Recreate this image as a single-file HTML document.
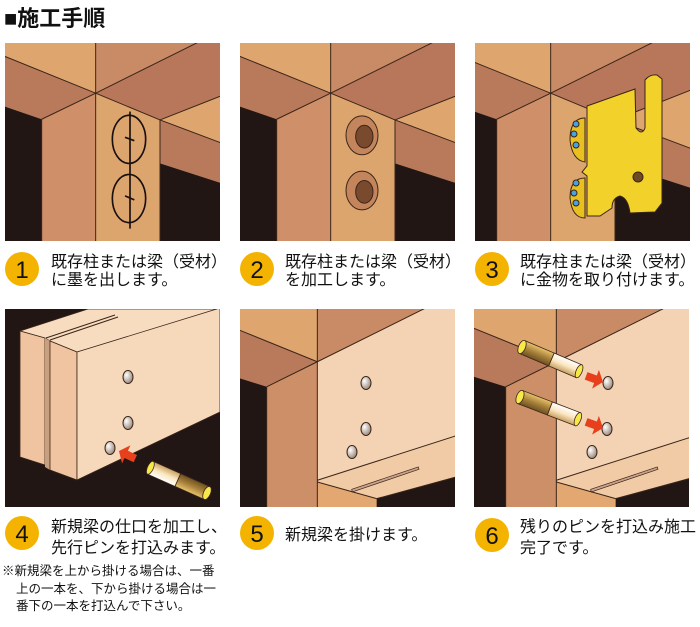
<!DOCTYPE html>
<html><head><meta charset="utf-8"><style>
html,body{margin:0;padding:0;background:#fff;}
body{width:700px;height:627px;overflow:hidden;font-family:"Liberation Sans","Noto Sans CJK JP",sans-serif;}
</style></head><body>
<svg width="700" height="627" viewBox="0 0 700 627" xmlns="http://www.w3.org/2000/svg" style="position:absolute;left:0;top:0">
<defs>
<g id="bg1">
  <rect x="0" y="0" width="760" height="620" fill="#dea56f"/>
  <polygon points="287,10 590,10 287,160" fill="#c98b66"/>
  <polygon points="590,10 760,10 760,130 480,240 287,160" fill="#b8775a"/>
  <polygon points="15,50 287,160 125,238 0,195 0,44" fill="#b97a5c"/>
  <polygon points="0,195 125,238 125,620 0,620" fill="#221614"/>
  <polygon points="125,238 287,160 287,620 125,620" fill="#cf8f69"/>
  <polygon points="287,160 480,240 480,620 287,620" fill="#dda56e"/>
  <polygon points="480,240 760,130 760,310 " fill="#dea56f"/>
  <polygon points="480,240 760,345 760,460 480,370" fill="#b97a5c"/>
  <polygon points="480,370 760,460 760,620 480,620" fill="#221614"/>
  <g stroke="#3a2518" stroke-width="3" fill="none">
    <line x1="0" y1="44" x2="287" y2="160"/>
    <line x1="287" y1="0" x2="287" y2="620"/>
    <line x1="287" y1="160" x2="600" y2="5"/>
    <line x1="287" y1="160" x2="125" y2="238"/>
    <line x1="125" y1="238" x2="125" y2="620"/>
    <line x1="287" y1="160" x2="480" y2="240"/>
    <line x1="480" y1="240" x2="480" y2="620"/>
    <line x1="480" y1="240" x2="760" y2="130"/>
    <line x1="480" y1="240" x2="760" y2="345"/>
  </g>
</g>
<g id="bg5">
  <rect x="0" y="0" width="700" height="620" fill="#dea56f"/>
  <polygon points="247,0 590,0 247,170" fill="#c98b66"/>
  <polygon points="0,70 247,170 95,245 0,215" fill="#b97a5c"/>
  <polygon points="0,215 95,245 95,620 0,620" fill="#221614"/>
  <polygon points="95,245 247,170 247,620 95,620" fill="#cd8f68"/>
  <polygon points="247,170 590,0 700,0 700,385 247,525" fill="#f3d3b3"/>
  <polygon points="247,525 700,380 700,505 425,580 247,530" fill="#f0cba6"/>
  <polygon points="247,530 425,580 425,620 247,620" fill="#e3a872"/>
  <polygon points="425,580 700,505 700,620 425,620" fill="#221614"/>
  <polygon points="350,552 550,485 552,492 352,560" fill="#caa08a" stroke="#3a2518" stroke-width="2"/>
  <g stroke="#3a2518" stroke-width="3" fill="none">
    <line x1="0" y1="70" x2="247" y2="170"/>
    <line x1="247" y1="0" x2="247" y2="620"/>
    <line x1="247" y1="170" x2="590" y2="0"/>
    <line x1="247" y1="170" x2="95" y2="245"/>
    <line x1="95" y1="245" x2="95" y2="620"/>
    <line x1="247" y1="525" x2="700" y2="380"/>
    <line x1="247" y1="530" x2="425" y2="580"/>
    <line x1="425" y1="580" x2="700" y2="505"/>
  </g>
</g>
<radialGradient id="hole" cx="0.35" cy="0.35" r="0.8"><stop offset="0" stop-color="#fff"/><stop offset="1" stop-color="#8a7464"/></radialGradient>
<g id="hole5"><ellipse cx="0" cy="0" rx="5" ry="6.5" fill="url(#hole)" stroke="#3a2518" stroke-width="1"/></g>
<linearGradient id="gold" x1="0" y1="0" x2="0" y2="1"><stop offset="0" stop-color="#e9c36a"/><stop offset="0.5" stop-color="#a8823c"/><stop offset="1" stop-color="#6e5120"/></linearGradient>
<linearGradient id="cream" x1="0" y1="0" x2="0" y2="1"><stop offset="0" stop-color="#fff"/><stop offset="0.5" stop-color="#fbe6c0"/><stop offset="1" stop-color="#c8a060"/></linearGradient>
<g id="pin">
  <rect x="0" y="-7" width="32" height="14" fill="url(#gold)" stroke="#3a2518" stroke-width="0.8"/>
  <rect x="32" y="-7" width="30" height="14" fill="url(#cream)" stroke="#3a2518" stroke-width="0.8"/>
  <ellipse cx="62" cy="0" rx="3" ry="7" fill="#f7e94a" stroke="#3a2518" stroke-width="0.8"/>
  <ellipse cx="0" cy="0" rx="3.5" ry="7" fill="#f7e94a" stroke="#3a2518" stroke-width="0.8"/>
</g>
<g id="arrow"><polygon points="0,0 8,-10 8,-4 18,-4 18,4 8,4 8,10" fill="#e8401c"/></g>
</defs>

<text x="4" y="26" font-size="22" font-weight="bold" fill="#111">■施工手順</text>

<svg x="5" y="43" width="215" height="198" viewBox="15 10 645 592" preserveAspectRatio="none">
  <use href="#bg1"/>
  <g stroke="#1a1010" stroke-width="5" fill="none">
    <ellipse cx="387" cy="298" rx="50" ry="72"/>
    <ellipse cx="387" cy="475" rx="50" ry="72"/>
    <line x1="390" y1="215" x2="390" y2="565"/>
    <line x1="375" y1="292" x2="403" y2="302"/>
    <line x1="375" y1="467" x2="403" y2="479"/>
  </g>
</svg>

<svg x="240" y="43" width="215" height="198" viewBox="15 10 645 592" preserveAspectRatio="none">
  <use href="#bg1"/>
  <g stroke="#3a2518" stroke-width="3">
    <ellipse cx="381" cy="286" rx="48" ry="58" fill="#c4855c"/>
    <ellipse cx="388" cy="290" rx="26" ry="34" fill="#7a4a2e"/>
    <ellipse cx="381" cy="451" rx="48" ry="58" fill="#c4855c"/>
    <ellipse cx="388" cy="455" rx="26" ry="34" fill="#7a4a2e"/>
  </g>
</svg>

<svg x="475" y="43" width="215" height="198" viewBox="60 10 645 592" preserveAspectRatio="none">
  <use href="#bg1"/>
</svg>
<g stroke="#3a2518" stroke-width="1">
  <path d="M585,118 Q570,118 570,140 Q572,160 585,162 Z" fill="#e8c020"/>
  <path d="M585,178 Q570,178 570,198 Q572,218 585,218 Z" fill="#e8c020"/>
  <path d="M587,106 L635,89 L636,128 Q642,136 645,128 L645,80 Q650,74 657,75 L662,79 L662,203 L655,212 L630,213 Q628,198 620,196 Q612,198 612,208 L600,216 L587,216 L587,176 L582,172 L587,166 Z" fill="#f2d22a"/>
  <circle cx="638" cy="177" r="5" fill="#6e4a20"/>
  <g fill="#4aa0e0">
    <circle cx="576" cy="124" r="3"/><circle cx="574" cy="134" r="3"/><circle cx="576" cy="145" r="3"/>
    <circle cx="576" cy="183" r="3"/><circle cx="574" cy="193" r="3"/><circle cx="576" cy="203" r="3"/>
  </g>
</g>

<svg x="5" y="309" width="215" height="198" viewBox="5 309 215 198">
  <rect x="0" y="300" width="230" height="210" fill="#221614"/>
  <polygon points="20,331 88,309 220,309 220,312 77,352 50,341 45,338" fill="#f8dcc0" stroke="#3a2518" stroke-width="0.8"/>
  <polygon points="20,331 45,338 45,465 20,457" fill="#f0c4a0" stroke="#3a2518" stroke-width="0.8"/>
  <polygon points="45,338 50,341 50,470 45,467" fill="#c8a080"/>
  <polygon points="50,341 77,352 77,480 50,470" fill="#f0c4a0" stroke="#3a2518" stroke-width="0.8"/>
  <polygon points="77,352 220,308 220,412 77,480" fill="#f6d9bb" stroke="#3a2518" stroke-width="0.8"/>
  <line x1="50" y1="340" x2="118" y2="317" stroke="#3a2518" stroke-width="1"/>
  <line x1="46" y1="338" x2="115" y2="315" stroke="#3a2518" stroke-width="1"/>
  <use href="#hole5" x="128" y="377"/>
  <use href="#hole5" x="128" y="423"/>
  <use href="#hole5" x="110" y="448"/>
  <g transform="translate(119,451) rotate(25)"><use href="#arrow"/></g>
  <g transform="translate(207,493) rotate(204)"><use href="#pin"/></g>
</svg>

<svg x="240" y="309" width="215" height="198" viewBox="15 12 645 593" preserveAspectRatio="none">
  <use href="#bg5"/>
</svg>
<use href="#hole5" x="366" y="383"/>
<use href="#hole5" x="366" y="429"/>
<use href="#hole5" x="352" y="452"/>

<svg x="474" y="309" width="215" height="198" viewBox="0 12 645 593" preserveAspectRatio="none">
  <use href="#bg5"/>
</svg>
<use href="#hole5" x="608" y="383"/>
<use href="#hole5" x="607" y="429"/>
<use href="#hole5" x="592" y="452"/>
<g transform="translate(522,347) rotate(23)"><use href="#pin"/></g>
<g transform="translate(520,397) rotate(21)"><use href="#pin"/></g>
<g transform="translate(603,382) rotate(200)"><use href="#arrow"/></g>
<g transform="translate(603,428) rotate(200)"><use href="#arrow"/></g>

<g fill="#f3b300">
  <circle cx="22" cy="269" r="17"/><circle cx="257" cy="269" r="17"/><circle cx="492" cy="269" r="17"/>
  <circle cx="22" cy="533" r="17"/><circle cx="257" cy="533" r="17"/><circle cx="492" cy="535" r="17"/>
</g>
<g font-size="24" fill="#111" text-anchor="middle">
  <text x="22" y="278">1</text><text x="257" y="278">2</text><text x="492" y="278">3</text>
  <text x="22" y="542">4</text><text x="257" y="542">5</text><text x="492" y="544">6</text>
</g>
<g font-size="16" fill="#111">
  <text x="51" y="267">既存柱または梁（受材）</text>
  <text x="51" y="285">に墨を出します。</text>
  <text x="285" y="267">既存柱または梁（受材）</text>
  <text x="285" y="285">を加工します。</text>
  <text x="520" y="267">既存柱または梁（受材）</text>
  <text x="520" y="285">に金物を取り付けます。</text>
  <text x="51" y="532">新規梁の仕口を加工し、</text>
  <text x="51" y="553">先行ピンを打込みます。</text>
  <text x="285" y="540">新規梁を掛けます。</text>
  <text x="520" y="532">残りのピンを打込み施工</text>
  <text x="520" y="553">完了です。</text>
</g>
<g font-size="12.5" fill="#111">
  <text x="2" y="575">※新規梁を上から掛ける場合は、一番</text>
  <text x="16" y="593">上の一本を、下から掛ける場合は一</text>
  <text x="16" y="610">番下の一本を打込んで下さい。</text>
</g>
</svg>
</body></html>
